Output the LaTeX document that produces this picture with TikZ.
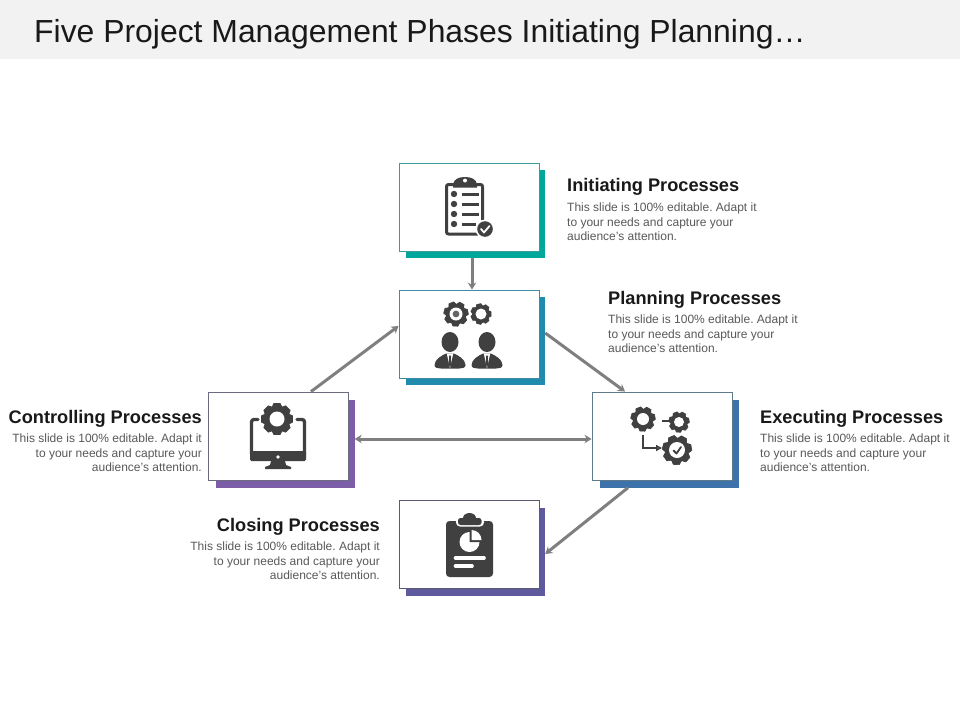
\documentclass[tikz,border=0pt]{standalone}
\usepackage{fontspec}
\setmainfont{Liberation Sans}
\usetikzlibrary{arrows.meta}
\frenchspacing
\definecolor{iconc}{HTML}{404040}
\definecolor{arrowc}{HTML}{7F7F7F}
\definecolor{bodyc}{HTML}{595959}
\definecolor{cteal}{HTML}{00A79A}
\definecolor{cblue}{HTML}{1F8BAD}
\definecolor{cpurple}{HTML}{7B5EA7}
\definecolor{csteel}{HTML}{3D72AA}
\definecolor{cindigo}{HTML}{5F5A9E}
\definecolor{lteal}{HTML}{3D9A9A}
\definecolor{lblue}{HTML}{3F8BA5}
\definecolor{lpurple}{HTML}{6B6B80}
\definecolor{lsteel}{HTML}{5F7A8A}
\definecolor{lindigo}{HTML}{5A5A75}
\tikzset{
  cardbox/.style={draw=#1,line width=0.9pt,fill=white,minimum width=140pt,minimum height=88pt,inner sep=0pt},
  cardshadow/.style={fill=#1,minimum width=139pt,minimum height=88pt,inner sep=0pt},
  flow/.style={draw=arrowc,line width=3pt,-{Stealth[length=7pt,width=8.5pt]}},
  flowboth/.style={draw=arrowc,line width=3pt,{Stealth[length=7pt,width=8.5pt]}-{Stealth[length=7pt,width=8.5pt]}},
  head/.style={font=\fontsize{18.2}{21}\selectfont\bfseries,text=black!90,inner sep=0pt},
  bodyL/.style={font=\fontsize{12}{14.5}\selectfont,text=bodyc,align=left,inner sep=0pt},
  bodyR/.style={font=\fontsize{12}{14.5}\selectfont,text=bodyc,align=right,inner sep=0pt},
  iconline/.style={draw=iconc,line cap=round,line join=round},
}
\newcommand{\gearicon}[6]{%
  % x, y, outer radius, hole radius, start angle, teeth
  \begin{scope}[shift={(#1,#2)}]
    \fill[iconc] (0,0) circle ({0.82*#3});
    \foreach \i in {1,...,#6}{
      \fill[iconc,rotate={\i*360/#6+#5},line join=round,draw=iconc,line width=0.6pt] ({0.72*#3},{-0.32*#3}) -- ({0.97*#3},{-0.2*#3}) -- ({0.97*#3},{0.2*#3}) -- ({0.72*#3},{0.32*#3}) -- cycle;
    }
    \fill[white] (0,0) circle (#4);
  \end{scope}}
\newcommand{\personicon}[1]{%
  \begin{scope}[shift={(#1,0)}]
    \fill[iconc] (0,342) ellipse (8.5 and 10);
    \fill[iconc] (-15.5,365) .. controls (-15,359) and (-9,356) .. (-4,353.5) -- (4,353.5) .. controls (9,356) and (15,359) .. (15.5,365) .. controls (15.5,368) and (12,368.5) .. (9,368.5) -- (-9,368.5) .. controls (-12,368.5) and (-15.5,368) .. (-15.5,365) -- cycle;
    \fill[white] (-3.2,353.5) -- (3.2,353.5) -- (0,368.5) -- cycle;
    \fill[iconc] (-1.2,355.5) -- (1.2,355.5) -- (0.8,357.5) -- (1.5,364) -- (0,367) -- (-1.5,364) -- (-0.8,357.5) -- cycle;
  \end{scope}}
\begin{document}
\begin{tikzpicture}[x=1pt,y=-1pt]
\useasboundingbox (0,0) rectangle (960,720);
\fill[white] (0,0) rectangle (960,720);
\fill[black!5] (0,0) rectangle (960,59);
\node[anchor=west,inner sep=0pt,font=\fontsize{31.9}{38}\selectfont,text=black!90] (title) at (34,34) {Five Project Management Phases Initiating Planning…};

% shadows
\node[cardshadow=cteal]   (initS) at (475.5,214) {};
\node[cardshadow=cblue]   (planS) at (475.5,341) {};
\node[cardshadow=cpurple] (ctrlS) at (285,443.5) {};
\node[cardshadow=csteel]  (execS) at (669,443.5) {};
\node[cardshadow=cindigo] (closS) at (475.5,551.5) {};
% cards
\node[cardbox=lteal]   (init) at (469,207) {};
\node[cardbox=lblue]   (plan) at (469,334) {};
\node[cardbox=lpurple] (ctrl) at (278,436) {};
\node[cardbox=lsteel]  (exec) at (662,436) {};
\node[cardbox=lindigo] (clos) at (469,544) {};

% connectors
\draw[flow] ([xshift=-3.5pt]initS.south) -- ([xshift=3pt]plan.north);
\draw[flow] ([yshift=8pt]planS.east) -- ([xshift=-37pt]exec.north);
\draw[flow] ([xshift=33pt]ctrl.north) -- ([yshift=8pt]plan.west);
\draw[flowboth] ([yshift=4.5pt]ctrlS.east) -- ([yshift=-3pt]exec.west);
\draw[flow] ([xshift=-41pt]execS.south) -- ([yshift=-2.5pt]closS.east);

% text
\node[head,anchor=west] (h1) at (567,187) {Initiating Processes};
\node[bodyL,anchor=west] (b1) at (567,222) {This slide is 100\% editable. Adapt it\\to your needs and capture your\\audience's attention.};
\node[head,anchor=west] (h2) at (608,300) {Planning Processes};
\node[bodyL,anchor=west] (b2) at (608,334) {This slide is 100\% editable. Adapt it\\to your needs and capture your\\audience's attention.};
\node[head,anchor=west] (h3) at (760,419) {Executing Processes};
\node[bodyL,anchor=west] (b3) at (760,453) {This slide is 100\% editable. Adapt it\\to your needs and capture your\\audience's attention.};
\node[head,anchor=east] (h4) at (202,419) {Controlling Processes};
\node[bodyR,anchor=east] (b4) at (202,453) {This slide is 100\% editable. Adapt it\\to your needs and capture your\\audience's attention.};
\node[head,anchor=east] (h5) at (380,527) {Closing Processes};
\node[bodyR,anchor=east] (b5) at (380,561) {This slide is 100\% editable. Adapt it\\to your needs and capture your\\audience's attention.};

% icon: checklist
\draw[iconline,line width=3pt,rounded corners=2pt] (453,184.5) -- (446.5,184.5) -- (446.5,234) -- (482.5,234) -- (482.5,184.5) -- (477,184.5);
\fill[iconc] (453,187.5) -- (453,184) .. controls (454,179) and (459,177) .. (465,177) .. controls (471,177) and (476,179) .. (477,184) -- (477,187.5) -- cycle;
\fill[white] (465,180.5) circle (2);
\foreach \yy in {194,204,214,224}{ \fill[iconc] (454,\yy) circle (3.2); }
\foreach \yy in {194,204,214}{ \draw[iconc,line width=3pt] (462,\yy) -- (479,\yy); }
\draw[iconc,line width=3pt] (462,224) -- (476,224);
\fill[white] (485,229) circle (9.5);
\fill[iconc] (485,229) circle (7.8);
\draw[white,line width=1.8pt,line cap=round,line join=round] (481,229) -- (484,232.5) -- (489.5,226);

% icon: team
\gearicon{456}{314}{12.5}{6.5}{10}{7}
\fill[arrowc!80!black] (456,314) circle (3.4);
\gearicon{481}{314}{10.5}{5.5}{0}{7}
\personicon{450}
\personicon{487}

% icon: monitor
\draw[iconline,line width=3.4pt,rounded corners=2.5pt] (258,419.5) -- (251.5,419.5) -- (251.5,456) -- (304.5,456) -- (304.5,419.5) -- (297,419.5);
\fill[iconc,rounded corners=1.5pt] (250,451) rectangle (306,461);
\fill[white] (278,457) circle (1.8);
\fill[iconc] (271,461) -- (285,461) -- (286,465) -- (291,467) -- (291,469) -- (265,469) -- (265,467) -- (270,465) -- cycle;
\gearicon{277}{419}{16}{7.5}{0}{8}

% icon: executing
\gearicon{643}{419}{12.5}{6}{10}{7}
\draw[iconc,line width=1.8pt] (662,421) -- (669,421);
\gearicon{679}{422}{10.5}{5}{10}{7}
\gearicon{677}{450}{15}{8}{10}{7}
\draw[iconc,line width=1.8pt,line cap=round,line join=round] (673.5,450.5) -- (676.5,453.5) -- (681,447);
\draw[iconc,line width=1.6pt,-{Triangle[open,length=6pt,width=6pt]}] (643,435) -- (643,448) -- (662,448);

% icon: closing clipboard
\fill[iconc,rounded corners=3.5pt] (446,521) rectangle (493,577);
\fill[white,rounded corners=4pt] (456,518) rectangle (484,526.5);
\fill[iconc,rounded corners=2.5pt] (458,518) rectangle (481.5,525);
\fill[iconc] (469.5,518) ellipse (6.5 and 5);
\fill[white] (469.5,542) circle (10);
\fill[iconc] (469.5,542) -- (469.5,531) arc (-90:0:11) -- cycle;
\fill[white] (471.5,540) -- (471.5,530) arc (-90:0:10) -- cycle;
\draw[white,line width=3.6pt,line cap=round] (455.5,558) -- (484,558);
\draw[white,line width=3.6pt,line cap=round] (455.5,566) -- (472,566);
\end{tikzpicture}
\end{document}
